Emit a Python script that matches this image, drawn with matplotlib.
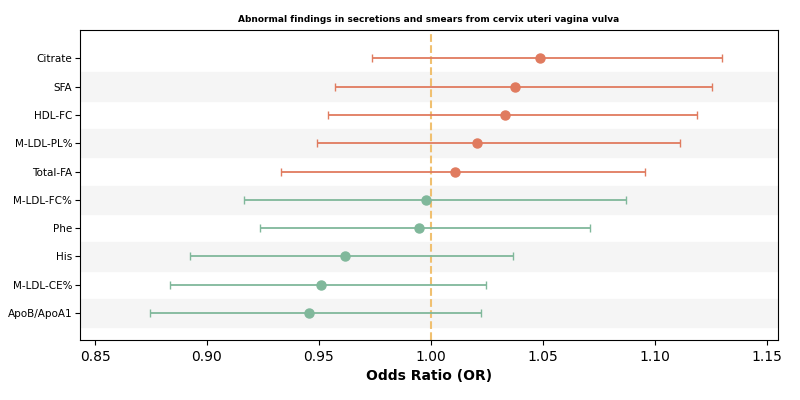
import matplotlib
matplotlib.use("Agg")
import matplotlib.pyplot as plt

labels = ["Citrate", "SFA", "HDL-FC", "M-LDL-PL%", "Total-FA",
          "M-LDL-FC%", "Phe", "His", "M-LDL-CE%", "ApoB/ApoA1"]
odds = [1.0487, 1.0375, 1.033, 1.0205, 1.0107, 0.998, 0.9946, 0.9616, 0.9509, 0.9455]
lower = [0.9737, 0.957, 0.954, 0.949, 0.933, 0.9165, 0.9237, 0.8924, 0.8835, 0.8746]
upper = [1.1299, 1.1254, 1.1188, 1.1112, 1.0955, 1.087, 1.071, 1.0366, 1.0246, 1.0223]

fig, ax = plt.subplots(figsize=(8, 4), dpi=100)
fig.subplots_adjust(left=0.1, right=0.9725, top=0.925, bottom=0.15)

n = len(labels)
for i, (lab, o, lo, hi) in enumerate(zip(labels, odds, lower, upper)):
    y = n - 1 - i
    if i % 2 == 1:
        ax.axhspan(y - 0.5, y + 0.5, color="#f5f5f5", zorder=0)
    c = "#e07b5f" if o > 1 else "#80b89b"
    ax.errorbar(o, y, xerr=[[o - lo], [hi - o]], fmt="o", color=c,
                ecolor=c, capsize=3, markersize=6.5, elinewidth=1.3, zorder=3)

ax.axvline(1.0, color="#f0c070", linestyle="--", linewidth=1.5, zorder=2)
ax.set_yticks(range(n))
ax.set_yticklabels(labels[::-1], fontsize=7.5)
ax.tick_params(axis="y", pad=2)
ax.set_ylim(-0.95, n)
ax.set_xlim(0.8433, 1.155)
ax.set_xticks([0.85, 0.90, 0.95, 1.00, 1.05, 1.10, 1.15])
ax.tick_params(axis="x", labelsize=10)
ax.set_xlabel("Odds Ratio (OR)", fontsize=10, fontweight="bold")
ax.set_title("Abnormal findings in secretions and smears from cervix uteri vagina vulva",
             fontsize=6.5, fontweight="bold")
fig.savefig("out.png")
